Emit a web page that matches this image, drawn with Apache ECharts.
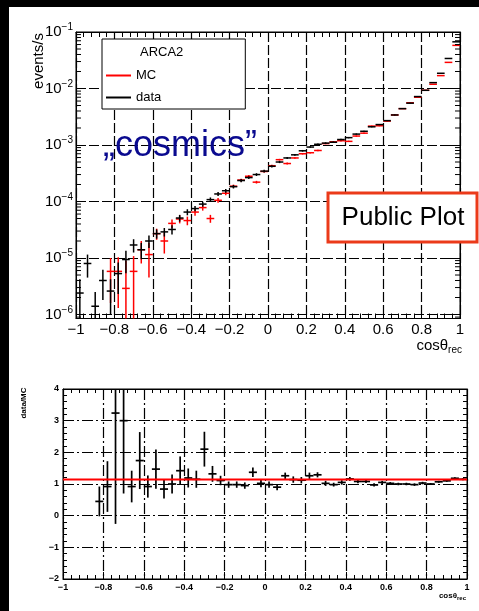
<!DOCTYPE html>
<html><head><meta charset="utf-8">
<script src="https://cdn.jsdelivr.net/npm/echarts@6/dist/echarts.min.js"></script>
<style>html,body{margin:0;padding:0;background:#fff}#c{width:479px;height:611px}</style>
</head><body><div id="c"></div>
<script>
// ---- data ----
const binCenters = [-0.98,-0.94,-0.90,-0.86,-0.82,-0.78,-0.74,-0.70,-0.66,-0.62,
  -0.58,-0.54,-0.50,-0.46,-0.42,-0.38,-0.34,-0.30,-0.26,-0.22,
  -0.18,-0.14,-0.10,-0.06,-0.02,0.02,0.06,0.10,0.14,0.18,
  0.22,0.26,0.30,0.34,0.38,0.42,0.46,0.50,0.54,0.58,
  0.62,0.66,0.70,0.74,0.78,0.82,0.86,0.90,0.94,0.98];
const binWidth = 0.04;

const dataRate = [2.4e-6,8.0e-6,1.4e-6,4.0e-6,2.6e-6,5.3e-6,9.4e-6,1.7e-5,1.4e-5,2.0e-5,
  2.7e-5,2.9e-5,3.2e-5,5.1e-5,6.5e-5,7.5e-5,9.0e-5,1.08e-4,1.36e-4,1.55e-4,
  1.83e-4,2.35e-4,2.65e-4,3.0e-4,3.45e-4,4.2e-4,5.0e-4,5.9e-4,6.7e-4,7.9e-4,
  9.2e-4,1.03e-3,1.08e-3,1.12e-3,1.25e-3,1.35e-3,1.56e-3,1.75e-3,2.1e-3,2.3e-3,
  2.7e-3,3.4e-3,4.4e-3,5.5e-3,7.2e-3,9.3e-3,1.27e-2,1.86e-2,3.4e-2,6.7e-2];
const dataErr = [1.8e-6,3.5e-6,1.1e-6,2.2e-6,1.6e-6,3.0e-6,4.0e-6,4.5e-6,4.5e-6,5e-6,
  5e-6,5e-6,6e-6,7e-6,8e-6,8e-6,9e-6,1.0e-5,1.1e-5,1.2e-5,
  1.3e-5,1.5e-5,1.6e-5,1.7e-5,1.8e-5,2.0e-5,2.2e-5,2.4e-5,2.5e-5,2.7e-5,
  3.0e-5,3.2e-5,3.3e-5,3.4e-5,3.6e-5,3.7e-5,4.0e-5,4.2e-5,4.6e-5,4.8e-5,
  5.2e-5,5.8e-5,6.6e-5,7.4e-5,8.5e-5,9.6e-5,1.1e-4,1.4e-4,1.8e-4,2.6e-4];

const mcRate = [null,null,null,null,5.8e-6,5.8e-6,2.9e-6,5.8e-6,1.4e-5,1.15e-5,
  2.7e-5,2.0e-5,4.1e-5,4.9e-5,4.6e-5,6.5e-5,7.8e-5,5.0e-5,1.05e-4,1.4e-4,
  1.87e-4,2.4e-4,2.8e-4,2.2e-4,3.4e-4,4.3e-4,5.5e-4,4.7e-4,5.9e-4,7.0e-4,
  7.3e-4,8.0e-4,1.06e-3,1.14e-3,1.19e-3,1.16e-3,1.44e-3,1.62e-3,2.16e-3,2.19e-3,
  2.65e-3,3.4e-3,4.4e-3,5.6e-3,7.0e-3,9.3e-3,1.19e-2,1.69e-2,2.9e-2,5.8e-2];
const mcErr = [null,null,null,null,4.2e-6,4.5e-6,6e-6,5e-6,6e-6,7e-6,
  6e-6,8e-6,7e-6,8e-6,8e-6,9e-6,9e-6,8e-6,1.0e-5,1.1e-5,
  1.2e-5,1.3e-5,1.4e-5,1.2e-5,1.5e-5,1.7e-5,1.9e-5,1.8e-5,2.0e-5,2.2e-5,
  2.3e-5,2.4e-5,2.8e-5,3.0e-5,3.1e-5,3.1e-5,3.5e-5,3.8e-5,4.4e-5,4.5e-5,
  5.0e-5,5.6e-5,6.4e-5,7.2e-5,8.0e-5,9.4e-5,1.1e-4,1.3e-4,1.7e-4,2.4e-4];

const ratio = [null,null,null,null,0.45,0.92,3.24,3.0,0.92,1.74,
  0.92,1.47,0.84,1.0,1.42,1.19,1.15,2.10,1.32,1.11,
  0.98,0.98,0.95,1.37,1.02,0.98,0.90,1.26,1.14,1.12,
  1.26,1.29,1.02,0.98,1.05,1.16,1.08,1.08,0.97,1.05,
  1.02,1.0,1.0,0.98,1.03,1.0,1.07,1.10,1.18,1.15];
const ratioErr = [null,null,null,null,0.47,0.8,3.5,2.3,0.5,0.9,
  0.35,0.62,0.3,0.3,0.45,0.3,0.27,0.55,0.25,0.15,
  0.1,0.1,0.1,0.15,0.12,0.1,0.1,0.1,0.1,0.1,
  0.1,0.08,0.08,0.06,0.07,0.06,0.06,0.05,0.05,0.05,
  0.04,0.04,0.04,0.04,0.04,0.03,0.03,0.03,0.03,0.03];

const fitX = [-1, 1];
const fitY = [1.14, 1.14];

const topYMin = 8.5e-7, topYMax = 0.1;
const ratioYMin = -2, ratioYMax = 4;

// ---- helpers ----
const FONT = "'Liberation Sans', Arial, Helvetica, sans-serif";
const mk = (vals, errs) => binCenters.map((x, i) => vals[i] == null ? null : [x, vals[i], errs[i]]).filter(Boolean);
const minus = s => String(s).replace('-', '\u2212');
const fmtX = v => minus(Math.round(v * 10) / 10);

function errRender(color, lw, isLog) {
  return function (params, api) {
    const cs = params.coordSys;
    const L = cs.x, R = cs.x + cs.width, T = cs.y, B = cs.y + cs.height;
    const x = api.value(0), y = api.value(1), e = api.value(2);
    const pc = api.coord([x, y]);
    const pl = api.coord([x - binWidth / 2, y]);
    const pr = api.coord([x + binWidth / 2, y]);
    const clampY = p => (isFinite(p) ? Math.min(B, Math.max(T, p)) : B);
    const lo = y - e;
    const yLo = (isLog && lo <= 0) ? B : clampY(api.coord([x, lo])[1]);
    const yHi = clampY(api.coord([x, y + e])[1]);
    return {
      type: 'group',
      children: [
        {type: 'line', shape: {x1: Math.max(L, pl[0]), y1: pc[1], x2: Math.min(R, pr[0]), y2: pc[1]}, style: {stroke: color, lineWidth: lw}},
        {type: 'line', shape: {x1: pc[0], y1: yHi, x2: pc[0], y2: yLo}, style: {stroke: color, lineWidth: lw}}
      ]
    };
  };
}

// log-axis minor tick values (2..9 x 10^k)
const logMinor = [];
for (let k = -7; k <= -2; k++) for (let m = 2; m <= 9; m++) {
  const v = m * Math.pow(10, k);
  if (v > topYMin && v < topYMax) logMinor.push([-1, v]);
}
function minorRender(params, api) {
  const cs = params.coordSys;
  const py = api.coord([-1, api.value(1)])[1];
  const len = 5;
  return {type: 'group', children: [
    {type: 'line', shape: {x1: cs.x, y1: py, x2: cs.x + len, y2: py}, style: {stroke: '#000', lineWidth: 1}},
    {type: 'line', shape: {x1: cs.x + cs.width - len, y1: py, x2: cs.x + cs.width, y2: py}, style: {stroke: '#000', lineWidth: 1}}
  ]};
}

const logLabel = v => {
  const e = Math.log10(v), r = Math.round(e);
  if (Math.abs(e - r) > 1e-6) return '';
  return '{b|10}{s|' + minus(r) + '}';
};

const blk = {color: '#000', width: 1};
const line0 = {show: true, onZero: false, lineStyle: blk};
const topDash = {color: '#000', width: 1.2, type: [10, 3]};
const botDash = {color: '#000', width: 1.2, type: [11, 3, 2, 3]};

const option = {
  backgroundColor: '#fff',
  animation: false,
  textStyle: {fontFamily: FONT},
  grid: [
    {left: 76, top: 32, width: 384, height: 286.5, show: true, borderColor: '#000', borderWidth: 1},
    {left: 63, top: 389, width: 404, height: 190, show: true, borderColor: '#000', borderWidth: 1}
  ],
  xAxis: [
    {type: 'value', gridIndex: 0, min: -1, max: 1, interval: 0.2, position: 'bottom',
      axisLine: line0,
      axisTick: {show: true, inside: true, length: 9, lineStyle: blk},
      minorTick: {show: true, splitNumber: 5, length: 5, lineStyle: blk},
      axisLabel: {formatter: fmtX, fontSize: 15, color: '#000', margin: 4},
      splitLine: {show: true, lineStyle: topDash}},
    {type: 'value', gridIndex: 0, min: -1, max: 1, interval: 0.2, position: 'top',
      axisLine: line0,
      axisTick: {show: true, inside: true, length: 9, lineStyle: blk},
      minorTick: {show: true, splitNumber: 5, length: 5, lineStyle: blk},
      axisLabel: {show: false}, splitLine: {show: false}},
    {type: 'value', gridIndex: 1, min: -1, max: 1, interval: 0.2, position: 'bottom',
      axisLine: line0,
      axisTick: {show: true, inside: true, length: 7, lineStyle: blk},
      minorTick: {show: true, splitNumber: 5, length: 4, lineStyle: blk},
      axisLabel: {formatter: fmtX, fontSize: 9, fontWeight: 'bold', color: '#000', margin: 4},
      splitLine: {show: true, lineStyle: botDash}},
    {type: 'value', gridIndex: 1, min: -1, max: 1, interval: 0.2, position: 'top',
      axisLine: line0,
      axisTick: {show: true, inside: true, length: 7, lineStyle: blk},
      minorTick: {show: true, splitNumber: 5, length: 4, lineStyle: blk},
      axisLabel: {show: false}, splitLine: {show: false}}
  ],
  yAxis: [
    {type: 'log', gridIndex: 0, min: topYMin, max: topYMax, position: 'left',
      axisLine: line0,
      axisTick: {show: true, inside: true, length: 10, lineStyle: blk},
      axisLabel: {formatter: logLabel, color: '#000', margin: 3,
        rich: {b: {fontSize: 15, color: '#000'}, s: {fontSize: 10, color: '#000', padding: [0, 0, 9, 0]}}},
      splitLine: {show: true, lineStyle: topDash}},
    {type: 'log', gridIndex: 0, min: topYMin, max: topYMax, position: 'right',
      axisLine: line0,
      axisTick: {show: true, inside: true, length: 10, lineStyle: blk},
      axisLabel: {show: false}, splitLine: {show: false}},
    {type: 'value', gridIndex: 1, min: ratioYMin, max: ratioYMax, interval: 1, position: 'left',
      axisLine: line0,
      axisTick: {show: true, inside: true, length: 7, lineStyle: blk},
      minorTick: {show: true, splitNumber: 5, length: 4, lineStyle: blk},
      axisLabel: {formatter: v => minus(v), fontSize: 9, fontWeight: 'bold', color: '#000', margin: 4},
      splitLine: {show: true, lineStyle: botDash}},
    {type: 'value', gridIndex: 1, min: ratioYMin, max: ratioYMax, interval: 1, position: 'right',
      axisLine: line0,
      axisTick: {show: true, inside: true, length: 7, lineStyle: blk},
      minorTick: {show: true, splitNumber: 5, length: 4, lineStyle: blk},
      axisLabel: {show: false}, splitLine: {show: false}}
  ],
  legend: {
    data: ['MC', 'data'], orient: 'vertical', left: 102, top: 39,
    padding: [30, 84, 5, 4], itemGap: 9, itemWidth: 25, itemHeight: 2, icon: 'rect',
    selectedMode: false, backgroundColor: '#fff', borderColor: '#000', borderWidth: 1, borderRadius: 0,
    textStyle: {fontSize: 13, color: '#000', fontFamily: FONT}
  },
  graphic: {elements: [
    {type: 'rect', z: 100, shape: {x: 0, y: 0, width: 479, height: 7}, style: {fill: '#000'}},
    {type: 'rect', z: 100, shape: {x: 0, y: 0, width: 9, height: 611}, style: {fill: '#000'}},
    {type: 'text', z: 100, x: 140, y: 52, style: {text: 'ARCA2', fontSize: 13, fontFamily: FONT, fill: '#000', verticalAlign: 'middle'}},
    {type: 'text', z: 100, x: 103, y: 146, style: {text: '\u201Ecosmics\u201D', fontSize: 36, fontFamily: FONT, fill: '#0a0a8f', verticalAlign: 'middle'}},
    {type: 'rect', z: 100, shape: {x: 328, y: 193, width: 149, height: 49}, style: {fill: '#fff', stroke: '#eb3a1a', lineWidth: 3}},
    {type: 'text', z: 101, x: 403, y: 218, style: {text: 'Public Plot', fontSize: 26, fontFamily: FONT, fill: '#000', align: 'center', verticalAlign: 'middle'}},
    {type: 'text', z: 100, x: 39, y: 61, rotation: Math.PI / 2, style: {text: 'events/s', fontSize: 15, fontFamily: FONT, fill: '#000', align: 'center', verticalAlign: 'middle'}},
    {type: 'text', z: 100, x: 462, y: 346, style: {text: '{a|cos\u03B8}{b|rec}', align: 'right', verticalAlign: 'middle', fontFamily: FONT,
      rich: {a: {fontSize: 15, fill: '#000', fontFamily: FONT}, b: {fontSize: 10, fill: '#000', fontFamily: FONT, padding: [8, 0, 0, 0]}}}},
    {type: 'text', z: 100, x: 24, y: 403, rotation: Math.PI / 2, style: {text: 'data/MC', fontSize: 8, fontWeight: 'bold', fontFamily: FONT, fill: '#000', align: 'center', verticalAlign: 'middle'}},
    {type: 'text', z: 100, x: 466, y: 596, style: {text: '{a|cos\u03B8}{b|rec}', align: 'right', verticalAlign: 'middle', fontFamily: FONT,
      rich: {a: {fontSize: 8, fontWeight: 'bold', fill: '#000', fontFamily: FONT}, b: {fontSize: 6, fontWeight: 'bold', fill: '#000', fontFamily: FONT, padding: [5, 0, 0, 0]}}}}
  ]},
  series: [
    {name: 'MC', type: 'custom', xAxisIndex: 0, yAxisIndex: 0, z: 3, itemStyle: {color: '#ff0000'},
      renderItem: errRender('#ff0000', 1.5, true), data: mk(mcRate, mcErr), encode: {x: 0, y: 1}},
    {name: 'data', type: 'custom', xAxisIndex: 0, yAxisIndex: 0, z: 4, itemStyle: {color: '#000'},
      renderItem: errRender('#000', 1.5, true), data: mk(dataRate, dataErr), encode: {x: 0, y: 1}},
    {name: 'logMinorTicks', type: 'custom', xAxisIndex: 0, yAxisIndex: 0, z: 5, silent: true,
      renderItem: minorRender, data: logMinor, encode: {x: 0, y: 1}},
    {name: 'ratio', type: 'custom', xAxisIndex: 2, yAxisIndex: 2, z: 4, itemStyle: {color: '#000'},
      renderItem: errRender('#000', 1.7, false), data: mk(ratio, ratioErr), encode: {x: 0, y: 1}},
    {name: 'fit', type: 'line', xAxisIndex: 2, yAxisIndex: 2, z: 6, symbol: 'none', silent: true,
      lineStyle: {color: '#ff0000', width: 2}, data: fitX.map((x, i) => [x, fitY[i]])}
  ]
};
const chart = echarts.init(document.getElementById('c'));
chart.setOption(option);
</script>
</body></html>
